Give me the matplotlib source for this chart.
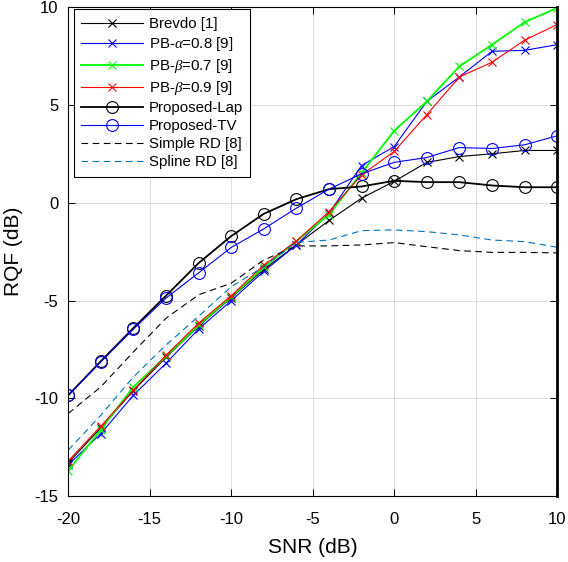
import numpy as np
import matplotlib
matplotlib.use('Agg')
import matplotlib.pyplot as plt

plt.rcParams['font.family'] = ['Liberation Sans', 'DejaVu Sans']
plt.rcParams['mathtext.fontset'] = 'custom'
plt.rcParams['mathtext.it'] = 'Liberation Serif:italic'
plt.rcParams['axes.unicode_minus'] = False

snr = [-20, -18, -16, -14, -12, -10, -8, -6, -4, -2, 0, 2, 4, 6, 8, 10]

brevdo = [-13.3, -11.5, -9.6, -7.9, -6.3, -4.85, -3.4, -2.15, -0.9, 0.24, 1.1, 2.07, 2.37, 2.51, 2.68, 2.68]
pb_alpha08 = [-13.4, -11.8, -9.84, -8.2, -6.45, -5.0, -3.5, -2.15, -0.53, 1.91, 2.88, 5.19, 6.44, 7.75, 7.8, 8.09]
pb_beta07 = [-13.7, -11.6, -9.41, -7.85, -6.25, -4.8, -3.3, -1.95, -0.6, 1.53, 3.69, 5.19, 6.98, 8.09, 9.24, 9.97]
pb_beta09 = [-13.2, -11.42, -9.58, -7.79, -6.15, -4.75, -3.18, -1.95, -0.45, 1.43, 2.63, 4.51, 6.44, 7.19, 8.32, 9.12]
prop_lap = [-9.84, -8.1, -6.4, -4.75, -3.08, -1.7, -0.56, 0.19, 0.70, 0.84, 1.13, 1.06, 1.06, 0.89, 0.80, 0.80]
prop_tv = [-9.84, -8.13, -6.46, -4.87, -3.58, -2.28, -1.33, -0.27, 0.70, 1.49, 2.07, 2.32, 2.83, 2.78, 2.97, 3.43]
simple_rd = [-10.77, -9.41, -7.62, -5.9, -4.7, -4.11, -2.92, -2.2, -2.2, -2.15, -2.03, -2.24, -2.44, -2.53, -2.53, -2.56]
spline_rd = [-12.65, -10.86, -8.9, -7.27, -5.8, -4.29, -3.26, -2.02, -1.9, -1.42, -1.38, -1.47, -1.64, -1.9, -1.98, -2.27]

fig = plt.figure(figsize=(5.68, 5.62), dpi=100)
ax = fig.add_axes([0.120, 0.117, 0.861, 0.870])

ms_x = 6
ms_o = 8.5
ax.plot(snr, brevdo, color='k', lw=0.8, marker='x', ms=ms_x, mew=0.8, label='Brevdo [1]')
ax.plot(snr, pb_alpha08, color='#0000ff', lw=0.8, marker='x', ms=ms_x, mew=0.8,
        label=r'PB-$\alpha$=0.8 [9]')
ax.plot(snr, pb_beta07, color='#00ff00', lw=1.3, marker='x', ms=ms_x, mew=0.8,
        label=r'PB-$\beta$=0.7 [9]')
ax.plot(snr, pb_beta09, color='#ff0000', lw=0.8, marker='x', ms=ms_x, mew=0.8,
        label=r'PB-$\beta$=0.9 [9]')
ax.plot(snr, prop_lap, color='k', lw=1.3, marker='o', ms=ms_o, mfc='none', mew=0.8,
        label='Proposed-Lap')
ax.plot(snr, prop_tv, color='#0000ff', lw=0.8, marker='o', ms=ms_o, mfc='none', mew=0.8,
        label='Proposed-TV')
ax.plot(snr, simple_rd, color='k', lw=0.8, dashes=(6, 4), label='Simple RD [8]')
ax.plot(snr, spline_rd, color='#0072bd', lw=0.8, dashes=(6, 4), label='Spline RD [8]')

ax.set_xlim(-20, 10)
ax.set_ylim(-15, 10)
ax.set_xticks(np.arange(-20, 11, 5))
ax.set_yticks(np.arange(-15, 11, 5))
ax.grid(True, color='#dcdcdc', lw=0.7)
ax.set_axisbelow(True)
ax.tick_params(direction='in', top=True, right=True, labelsize=12, length=5, width=0.7,
               colors='k')
ax.tick_params(axis='x', pad=11)
ax.tick_params(axis='y', pad=7)
for s in ax.spines.values():
    s.set_linewidth(0.8)
ax.spines['right'].set_linewidth(2.0)

ax.set_xlabel('SNR (dB)', fontsize=15, labelpad=8)
ax.set_ylabel('RQF (dB)', fontsize=15, labelpad=8)

leg = ax.legend(loc='upper left', bbox_to_anchor=(0.011, 0.996), borderaxespad=0,
                fontsize=10.8, handlelength=4.1, labelspacing=0.27, fancybox=False,
                framealpha=1, edgecolor='k', borderpad=0.5, handletextpad=0.4)
leg.get_frame().set_linewidth(0.8)

fig.savefig('out.png', dpi=100)
